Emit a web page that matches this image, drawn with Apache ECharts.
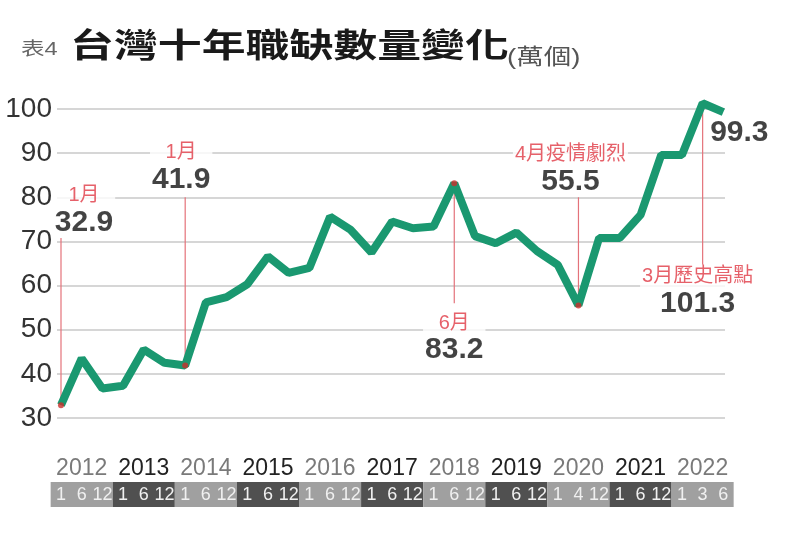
<!DOCTYPE html>
<html><head><meta charset="utf-8">
<script src="https://cdn.jsdelivr.net/npm/echarts@6/dist/echarts.min.js"></script>
<style>html,body{margin:0;padding:0;background:#fff}#c{width:792px;height:538px}</style>
</head><body><div id="c"></div>
<script>
// ---- data ----
const years = ['2012','2013','2014','2015','2016','2017','2018','2019','2020','2021','2022'];
const months = ['1','6','12','1','6','12','1','6','12','1','6','12','1','6','12','1','6','12',
                '1','6','12','1','6','12','1','4','12','1','6','12','1','3','6'];
const values = [32.9,43.5,36.7, 37.3,45.5,42.5, 41.9,56.2,57.4, 60.3,66.6,62.9,
                64.0,75.6,72.6, 67.5,74.5,73.0, 73.4,83.2,71.2, 69.6,72.0,67.8,
                64.7,55.5,70.8, 70.8,76.0,89.6, 89.6,101.3,99.3];
const yTickLabels = [30,40,50,60,70,80,90,100];
const noteIdx = [0,6,19,25,31,32];
const noteText = ['1月','1月','6月','4月疫情劇烈','3月歷史高點',''];
const titleTag = '表4';
const titleText = '台灣十年職缺數量變化';
const unitText = '(萬個)';

// ---- layout / style ----
const NARROW = "'Liberation Sans Narrow','Liberation Sans','Noto Sans CJK TC',sans-serif";
const SANS = "'Liberation Sans','Noto Sans CJK TC',sans-serif";
const CJK = "'Noto Sans CJK TC','Noto Sans CJK SC',sans-serif";
const GREEN = '#1a9870', RED = '#e03a45';
const BOX_LIGHT = '#a0a0a0', BOX_DARK = '#505050';
const noteLayout = [
  {end: 70.8, pos: 'top', dist: 0, dx: 23},
  {end: 80, pos: 'top', dist: 3, dx: -4},
  {end: 56, pos: 'bottom', dist: 8, dx: 0},
  {end: 80, pos: 'top', dist: 1, dx: -8},
  {end: 64.7, pos: 'bottom', dist: 0, dx: -5},
  {end: null, pos: 'bottom', dist: 6, dx: 16}
];

const chart = echarts.init(document.getElementById('c'), null, {renderer: 'canvas'});

const lineData = values.map((v, i) => [i, v]);
const redLines = noteIdx.map((idx, k) => noteLayout[k].end == null ? null : ({
  type: 'line', xAxisIndex: 0, yAxisIndex: 0, z: 2, silent: true, symbol: 'none', clip: false,
  lineStyle: {color: '#e4727a', width: 1.2},
  data: [[idx, values[idx]], [idx, noteLayout[k].end]]
})).filter(Boolean);

const option = {
  backgroundColor: '#fff',
  animation: false,
  graphic: [
    {type: 'text', x: 21, y: 50, scaleX: 1.31, style: {text: titleTag, fontSize: 18, fill: '#666', fontFamily: SANS, verticalAlign: 'middle'}},
    {type: 'text', x: 70, y: 44, scaleX: 1.33, style: {text: titleText, fontSize: 33, fontWeight: 'bold', fill: '#1a1a1a', fontFamily: CJK, verticalAlign: 'middle'}},
    {type: 'text', x: 507, y: 58, scaleX: 1.25, style: {text: unitText, fontSize: 22, fill: '#555', fontFamily: SANS, verticalAlign: 'middle'}}
  ],
  grid: [
    {left: 57, top: 109, width: 668, height: 309},
    {left: 50.65, top: 482, width: 683, height: 25}
  ],
  xAxis: [
    {gridIndex: 0, type: 'value', min: -0.193, max: 32.08, show: false},
    {gridIndex: 1, type: 'category', data: months, position: 'bottom', boundaryGap: true, z: 10,
     axisLine: {show: false}, axisTick: {show: false}, splitLine: {show: false},
     axisLabel: {inside: true, margin: 3, interval: 0, color: '#f0f0f0', fontSize: 18, fontFamily: NARROW}},
    {gridIndex: 1, type: 'category', data: years, position: 'top', boundaryGap: true,
     axisLine: {show: false}, axisTick: {show: false}, splitLine: {show: false},
     axisLabel: {margin: 2, interval: 0,
       formatter: (v, i) => (i % 2 ? '{d|' + v + '}' : '{l|' + v + '}'),
       rich: {
         l: {fontSize: 23, color: '#7a7a7a', fontFamily: NARROW},
         d: {fontSize: 23, color: '#222', fontFamily: NARROW}
       }}}
  ],
  yAxis: [
    {gridIndex: 0, type: 'value', min: yTickLabels[0], max: yTickLabels[yTickLabels.length - 1],
     interval: yTickLabels[1] - yTickLabels[0],
     axisLine: {show: false}, axisTick: {show: false},
     axisLabel: {margin: 5, fontSize: 28, color: '#333', fontFamily: NARROW},
     splitLine: {lineStyle: {color: '#c8c8c8', width: 1.5}}},
    {gridIndex: 1, type: 'value', min: 0, max: 1, show: false}
  ],
  series: [
    {type: 'bar', xAxisIndex: 2, yAxisIndex: 1, silent: true, barWidth: '100%', barGap: '0%',
     data: years.map((y, i) => ({value: 1, itemStyle: {color: i % 2 ? BOX_DARK : BOX_LIGHT}}))},
    ...redLines,
    {type: 'line', name: '職缺數', xAxisIndex: 0, yAxisIndex: 0, z: 3, clip: false,
     data: lineData, symbol: 'none', lineStyle: {color: GREEN, width: 8}},
    {type: 'scatter', xAxisIndex: 0, yAxisIndex: 0, z: 5, silent: true, symbolSize: 6,
     itemStyle: {color: '#c9302c'},
     data: noteIdx.filter((idx, k) => noteLayout[k].end != null).map(idx => [idx, values[idx]])},
    {type: 'scatter', xAxisIndex: 0, yAxisIndex: 0, z: 4, silent: true, symbolSize: 0,
     data: noteIdx.map((idx, k) => {
       const L = noteLayout[k];
       return {
         value: [idx, L.end == null ? values[idx] : L.end],
         label: {show: true, position: L.pos, distance: L.dist, offset: [L.dx, 0]}
       };
     }),
     label: {
       show: true, backgroundColor: '#fff', padding: [0, 2],
       formatter: p => {
         const k = p.dataIndex;
         const num = values[noteIdx[k]].toFixed(1);
         return noteText[k] ? '{n|' + noteText[k] + '}\n{v|' + num + '}' : '{v|' + num + '}';
       },
       rich: {
         n: {fontSize: 20, color: RED, fontFamily: SANS, lineHeight: 24, align: 'center'},
         v: {fontSize: 30, fontWeight: 'bold', color: '#141414', fontFamily: SANS, lineHeight: 30, align: 'center'}
       }
     }}
  ]
};
chart.setOption(option);
</script>
</body></html>
